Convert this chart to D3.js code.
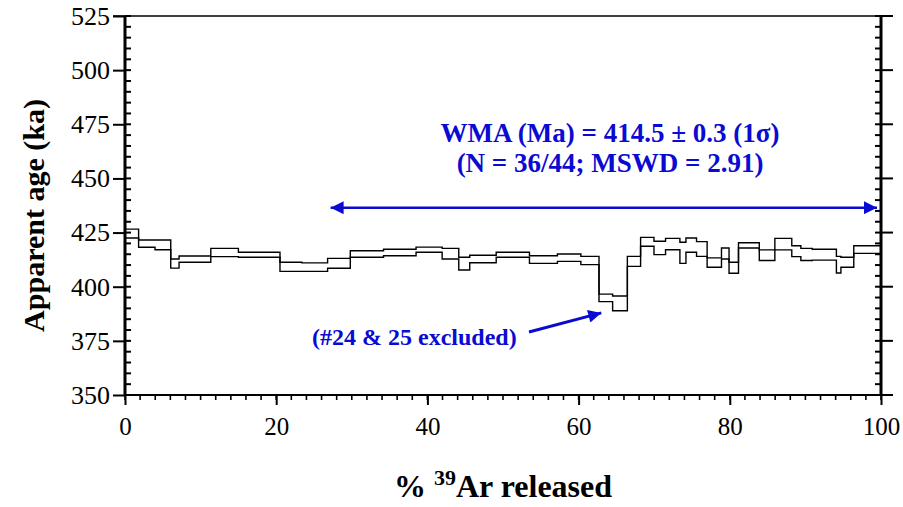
<!DOCTYPE html>
<html><head><meta charset="utf-8">
<script src="https://cdn.jsdelivr.net/npm/d3@7"></script>
<style>
html,body{margin:0;padding:0;background:#fff;}
svg{display:block;}
svg text{font-family:"Liberation Serif","Times New Roman",Times,"DejaVu Serif",serif;}
</style></head>
<body><svg id="c" width="903" height="507"></svg>
<script>
// cumulative % 39Ar boundaries of each heating step
const cumPct = [0,1.8,3.97,6.05,7.15,11.35,15.0,20.5,23.4,26.8,29.8,34.2,38.5,41.95,44.15,45.6,49.1,53.5,57.2,60.3,62.7,64.5,66.45,68.2,69.97,71.5,73.4,74.2,75.6,77.0,78.9,79.9,81.15,83.9,85.96,88.2,89.4,90.9,94.1,94.7,96.4,100];
// lower (age - 1σ) and upper (age + 1σ) apparent ages, ka
const ageLo = [422.5,418.2,417.1,408.6,411.3,413.9,413.6,407.1,407.1,408.5,413.6,414.3,415.9,412.8,407.7,411.1,413.6,410.8,411.7,410.2,393.1,388.9,409.4,418.7,414.8,417.1,410.8,415.9,414.0,409.0,412.8,406.2,417.9,412.1,417.0,413.9,412.1,412.3,406.3,409.0,415.4];
const ageHi = [426.6,421.6,421.6,412.8,414.2,417.7,415.9,411.3,411.0,413.1,416.6,417.3,418.3,417.7,413.6,414.5,415.9,414.3,415.1,414.0,396.6,395.7,414.0,422.8,421.0,422.3,420.5,422.5,420.8,413.3,417.9,411.3,420.3,417.0,422.3,418.9,417.7,417.3,414.0,413.6,418.9];
const xMajor = [0,20,40,60,80,100];
const xMinor = d3.range(0,101,2);
const yMajor = [350,375,400,425,450,475,500,525];
const yMinor = d3.range(350,526,5);
const plateauFrom = 26.8, plateauTo = 100;
const wmaLines = ["WMA (Ma) = 414.5 \u00b1 0.3 (1\u03c3)", "(N = 36/44; MSWD = 2.91)"];
const excludedLabel = "(#24 & 25 excluded)";
const excludedTarget = [63.0, 387.9];

const svg = d3.select("#c");
const L = 125, R = 881, T = 16, B = 395;
const x = d3.scaleLinear().domain([0,100]).range([L,R]);
const y = d3.scaleLinear().domain([350,525]).range([B,T]);
const blue = "#0a0ad2";
const serif = '"Liberation Serif","Times New Roman",Times,"DejaVu Serif",serif';

const defs = svg.append("defs");
defs.append("marker").attr("id","ah").attr("viewBox","0 0 10 10").attr("refX",10).attr("refY",5)
  .attr("markerUnits","userSpaceOnUse").attr("markerWidth",26).attr("markerHeight",13).attr("orient","auto-start-reverse")
  .append("path").attr("d","M0,0 L10,5 L0,10 Z").attr("fill",blue);

// step spectrum
const ptsHi = ageHi.map((v,i)=>[cumPct[i],v]).concat([[100,ageHi[ageHi.length-1]]]);
const ptsLo = ageLo.map((v,i)=>[cumPct[i],v]).concat([[100,ageLo[ageLo.length-1]]]);
const line = d3.line().x(d=>x(d[0])).y(d=>y(d[1])).curve(d3.curveStepAfter);
const g = svg.append("g").attr("fill","none").attr("stroke","#000").attr("stroke-width",1.4);
g.append("path").attr("d",line(ptsHi));
g.append("path").attr("d",line(ptsLo));
g.append("line").attr("x1",x(0)).attr("x2",x(0)).attr("y1",y(ageLo[0])).attr("y2",y(ageHi[0]));
g.append("line").attr("x1",x(100)).attr("x2",x(100)).attr("y1",y(ageLo[ageLo.length-1])).attr("y2",y(ageHi[ageHi.length-1]));

// frame
const fr = svg.append("g").attr("stroke","#000");
fr.append("line").attr("x1",113).attr("x2",893).attr("y1",T).attr("y2",T).attr("stroke-width",1.6);
fr.append("line").attr("x1",L).attr("x2",R+1).attr("y1",B).attr("y2",B).attr("stroke-width",2);
fr.append("line").attr("x1",L).attr("x2",L).attr("y1",T).attr("y2",B).attr("stroke-width",3);
fr.append("line").attr("x1",R).attr("x2",R).attr("y1",T).attr("y2",B).attr("stroke-width",3);

// left axis
const yAx = svg.append("g").attr("transform",`translate(${L},0)`)
  .call(d3.axisLeft(y).tickValues(yMajor).tickSize(12).tickPadding(3).tickFormat(d3.format("d")));
yAx.attr("font-family",serif);
yAx.select(".domain").remove();
yAx.selectAll(".tick line").attr("stroke","#000").attr("stroke-width",2);
yAx.selectAll("text").attr("font-size",26).attr("fill","#000");
svg.append("g").selectAll("line").data(yMinor).join("line")
  .attr("x1",L).attr("x2",L+6).attr("y1",d=>y(d)).attr("y2",d=>y(d)).attr("stroke","#000").attr("stroke-width",2);
svg.append("g").selectAll("line").data(yMinor).join("line")
  .attr("x1",R-6).attr("x2",R).attr("y1",d=>y(d)).attr("y2",d=>y(d)).attr("stroke","#000").attr("stroke-width",2);
svg.append("g").selectAll("line").data(yMajor).join("line")
  .attr("x1",R).attr("x2",R+12).attr("y1",d=>y(d)).attr("y2",d=>y(d)).attr("stroke","#000").attr("stroke-width",2);

// bottom axis
const xAx = svg.append("g").attr("transform",`translate(0,${B})`)
  .call(d3.axisBottom(x).tickValues(xMajor).tickSize(10).tickPadding(12).tickFormat(d3.format("d")));
xAx.attr("font-family",serif);
xAx.select(".domain").remove();
xAx.selectAll(".tick line").attr("stroke","#000").attr("stroke-width",2);
xAx.selectAll("text").attr("font-size",25).attr("fill","#000");
svg.append("g").selectAll("line").data(xMinor).join("line")
  .attr("x1",d=>x(d)).attr("x2",d=>x(d)).attr("y1",B).attr("y2",B+5).attr("stroke","#000").attr("stroke-width",1.6);

// axis titles
svg.append("text").attr("transform",`translate(44,${(T+B)/2+10}) rotate(-90)`).attr("text-anchor","middle")
  .attr("font-size",30).attr("font-weight","bold").text("Apparent age (ka)");
const xt = svg.append("text").attr("x",(L+R)/2).attr("y",497).attr("text-anchor","middle")
  .attr("font-size",32).attr("font-weight","bold");
xt.append("tspan").text("% ");
xt.append("tspan").attr("font-size",22).attr("dy",-12).text("39");
xt.append("tspan").attr("dy",12).text("Ar released");

// plateau arrow & text
svg.append("line").attr("x1",x(plateauFrom)+3).attr("x2",x(plateauTo)-4).attr("y1",y(436.5)).attr("y2",y(436.5))
  .attr("stroke",blue).attr("stroke-width",2.5).attr("marker-start","url(#ah)").attr("marker-end","url(#ah)");
svg.append("g").selectAll("text").data(wmaLines).join("text")
  .attr("x",610).attr("y",(d,i)=>142+i*30).attr("text-anchor","middle").attr("font-size",27)
  .attr("font-weight","bold").attr("fill",blue).text(d=>d);

// excluded annotation
svg.append("text").attr("x",312).attr("y",345).attr("font-size",24).attr("font-weight","bold").attr("fill",blue).text(excludedLabel);
svg.append("line").attr("x1",529).attr("y1",332).attr("x2",x(excludedTarget[0])).attr("y2",y(excludedTarget[1]))
  .attr("stroke",blue).attr("stroke-width",3).attr("marker-end","url(#ah)");
</script></body></html>
